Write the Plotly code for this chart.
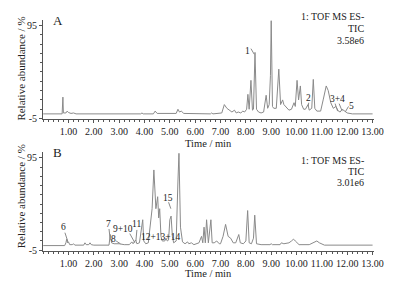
import plotly.graph_objects as go

# ---------------- data ----------------
time_a = [0.0, 0.75, 0.78, 0.80, 0.90, 0.95, 1.00, 1.10, 1.20, 1.30, 3.85, 3.90, 3.95,
          4.35, 4.42, 4.50, 5.25, 5.32, 5.38, 5.45, 5.55, 6.60, 6.65, 6.70, 7.05, 7.15,
          7.25, 7.35, 7.45, 7.55, 7.62, 7.70, 7.80, 7.88, 7.95, 8.03, 8.08, 8.13, 8.20,
          8.26, 8.30, 8.36, 8.42, 8.50, 8.60, 8.70, 8.80, 8.86, 8.92, 8.97, 9.00, 9.05,
          9.10, 9.20, 9.30, 9.37, 9.45, 9.50, 9.60, 9.70, 9.80, 9.90, 9.95, 10.02, 10.08,
          10.15, 10.20, 10.28, 10.35, 10.45, 10.50, 10.60, 10.66, 10.72, 10.80, 10.95,
          11.05, 11.17, 11.25, 11.35, 11.45, 11.55, 11.65, 11.72, 11.80, 11.90, 12.00,
          12.20, 13.00]
abund_a = [0, 0, 18, 1, 1, 3, 1.5, 0.5, 1, 0, 0, 1, 0,
           0, 3, 0.5, 0.5, 5, 2, 3, 0.5, 0, 1, 0, 1, 10,
           6, 4, 2, 4, 1, 2, 1, 3, 2, 5, 21, 5, 36,
           4, 5, 66, 5, 2, 1, 2, 20, 6, 10, 41, 100, 8,
           6, 6, 48, 10, 15, 10, 7, 4, 5, 12, 8, 36, 15,
           30, 10, 5, 5, 10, 4, 6, 37, 6, 3, 3,
           15, 30, 25, 12, 6, 8, 3, 2, 5, 3, 1,
           0, 0]

time_b = [0.0, 0.85, 0.90, 0.93, 0.97, 1.00, 1.05, 1.15, 1.20, 1.25, 1.60, 1.65, 1.70,
          1.80, 1.85, 1.90, 2.00, 2.60, 2.65, 2.70, 2.80, 3.00, 3.20, 3.40, 3.50, 3.55,
          3.65, 3.70, 3.80, 3.90, 3.93, 3.97, 4.05, 4.15, 4.30, 4.37, 4.45, 4.52, 4.56,
          4.60, 4.65, 4.70, 4.80, 4.85, 4.90, 4.95, 5.00, 5.05, 5.10, 5.15, 5.25, 5.32,
          5.36, 5.42, 5.50, 5.60, 5.70, 5.75, 5.85, 5.95, 6.05, 6.15, 6.25, 6.30, 6.35,
          6.40, 6.45, 6.52, 6.62, 6.67, 6.75, 6.85, 6.95, 7.00, 7.10, 7.20, 7.30, 7.40,
          7.50, 7.60, 7.72, 7.78, 7.90, 8.00, 8.07, 8.13, 8.22, 8.30, 8.35, 8.42, 8.60,
          8.95, 9.00, 9.05, 9.35, 9.40, 9.50, 9.70, 9.80, 9.88, 9.95, 10.10, 10.50,
          10.70, 10.80, 10.90, 11.10, 13.00]
abund_b = [0, 0, 3, 7, 3, 4, 1, 1, 2, 0.5, 0.5, 3, 1,
           1, 3, 1, 0.5, 0.5, 12, 3, 2, 2, 1, 1, 4, 2,
           6, 2, 3, 23, 28, 5, 2, 3, 40, 82, 40, 53, 30,
           40, 10, 5, 5, 8, 5, 6, 28, 32, 10, 3, 5, 70,
           100, 20, 4, 2, 4, 2, 3, 1, 2, 3, 10, 3, 20,
           3, 28, 3, 28, 3, 3, 5, 2, 2, 10, 23, 10, 8,
           3, 3, 12, 3, 2, 5, 38, 3, 2, 8, 33, 2, 1,
           1, 2, 1, 1, 3, 2, 3, 5, 7, 5, 1, 1,
           4, 5, 3, 0.5, 0.5]

x_ticks = [1, 2, 3, 4, 5, 6, 7, 8, 9, 10, 11, 12, 13]
x_tick_text = ["1.00", "2.00", "3.00", "4.00", "5.00", "6.00", "7.00", "8.00",
               "9.00", "10.00", "11.00", "12.00", "13.00"]
y_ticks = [-5, 95]
y_tick_text = ["-5", "95"]

# ---------------- figure ----------------
FONT = "Liberation Serif"
LINE = "#8a8a8a"
AX = "#555555"
W, H, OFF = 410, 285, 8   # page body margin offsets the figure by 8px


def px(x):
    return (x - OFF) / W


def py(y):
    return 1 - (y - OFF) / H


fig = go.Figure()
fig.add_trace(go.Scatter(x=time_a, y=abund_a, mode="lines",
                         line=dict(color=LINE, width=1), xaxis="x", yaxis="y",
                         showlegend=False, hoverinfo="skip"))
fig.add_trace(go.Scatter(x=time_b, y=abund_b, mode="lines",
                         line=dict(color=LINE, width=1), xaxis="x2", yaxis="y2",
                         showlegend=False, hoverinfo="skip"))

xdom = [px(44), px(383)]
xcommon = dict(range=[0, 13.05], tickvals=x_ticks, ticktext=x_tick_text,
               showgrid=False, zeroline=False, showline=True, linecolor=AX, linewidth=1,
               ticks="outside", ticklen=3, tickcolor=AX,
               minor=dict(dtick=0.2, ticks="outside", ticklen=2, tickcolor=AX),
               tickfont=dict(family=FONT, size=10, color="#222"), domain=xdom)
ycommon = dict(range=[-5.5, 101], tickvals=y_ticks, ticktext=y_tick_text,
               showgrid=False, zeroline=False, showline=True, linecolor=AX, linewidth=1,
               ticks="outside", ticklen=3, tickcolor=AX,
               minor=dict(tickvals=[5, 15, 25, 35, 45, 55, 65, 75, 85], ticks="outside",
                          ticklen=2, tickcolor=AX),
               tickfont=dict(family=FONT, size=10, color="#222"))

fig.update_layout(
    width=W, height=H, margin=dict(l=0, r=0, t=0, b=0),
    paper_bgcolor="white", plot_bgcolor="white",
    xaxis=dict(xcommon, anchor="y"),
    yaxis=dict(ycommon, domain=[py(121), py(20)], anchor="x"),
    xaxis2=dict(xcommon, anchor="y2"),
    yaxis2=dict(ycommon, domain=[py(255), py(155)], anchor="x2"),
)

tf = dict(family=FONT, size=9.5, color="#222")
ann = []


def pa(text, x, y, size=10, xanchor="center", angle=0):
    ann.append(dict(text=text, xref="paper", yref="paper", x=px(x), y=py(y),
                    xanchor=xanchor, yanchor="middle", textangle=angle, showarrow=False,
                    font=dict(family=FONT, size=size, color="#222")))


# axis titles
pa("Relative abundance / %", 21, 70, size=11, angle=-90)
pa("Relative abundance / %", 21, 200, size=11, angle=-90)
pa("Time / min", 213, 146, size=10.5)
pa("Time / min", 213, 278, size=10.5)
# panel letters
pa("A", 59, 21, size=13)
pa("B", 59, 155, size=13)
# instrument info
for lines, ys in ((["1: TOF MS ES-", "TIC", "3.58e6"], (17, 29, 41)),
                  (["1: TOF MS ES-", "TIC", "3.01e6"], (163, 174, 186))):
    for t, yy in zip(lines, ys):
        pa(t, 375, yy, xanchor="right")

# peak labels panel A
for t, x, y in (("1", 8.07, 67), ("2", 10.48, 17.5), ("3+4", 11.63, 16.5), ("5", 12.17, 9)):
    ann.append(dict(text=t, x=x, y=y, xref="x", yref="y", showarrow=False, font=tf))
# peak labels panel B
for t, x, y in (("6", 0.82, 20), ("7", 2.58, 23), ("8", 2.78, 7.5), ("9+10", 3.14, 18),
                ("11", 3.70, 23), ("12+13+14", 4.62, 9), ("15", 4.92, 52)):
    ann.append(dict(text=t, x=x, y=y, xref="x2", yref="y2", showarrow=False, font=tf))
fig.update_layout(annotations=ann)

# leader lines
shp = []


def lead(xr, yr, pts):
    for (x0, y0), (x1, y1) in zip(pts[:-1], pts[1:]):
        shp.append(dict(type="line", xref=xr, yref=yr, x0=x0, y0=y0, x1=x1, y1=y1,
                        line=dict(color=LINE, width=1)))


lead("x", "y", [(8.2, 70), (8.33, 64)])
lead("x", "y", [(10.48, 12), (10.46, 8)])
lead("x", "y", [(11.52, 11), (11.62, 3)])
lead("x", "y", [(11.68, 11), (11.8, 3)])
lead("x", "y", [(12.05, 8), (11.92, 2)])
lead("x2", "y2", [(0.86, 14), (0.98, 4)])
lead("x2", "y2", [(2.6, 18), (2.65, 6)])
lead("x2", "y2", [(2.88, 5), (3.05, 2)])
lead("x2", "y2", [(3.42, 13), (3.62, 3)])
lead("x2", "y2", [(3.7, 17), (3.66, 5)])
lead("x2", "y2", [(4.95, 47), (5.04, 40)])
fig.update_layout(shapes=shp)

fig.write_html("out.html")
